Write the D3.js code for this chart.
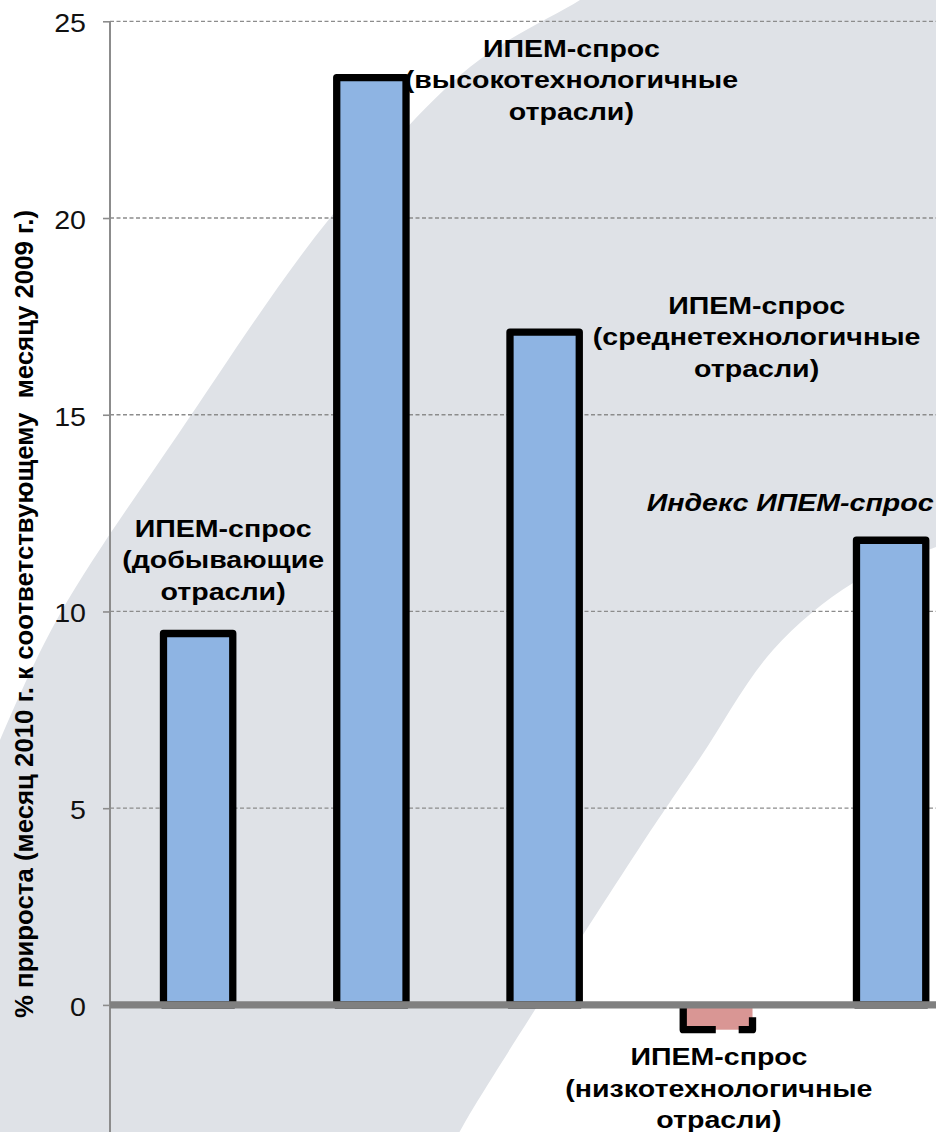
<!DOCTYPE html>
<html>
<head>
<meta charset="utf-8">
<script src="https://cdn.jsdelivr.net/npm/d3@7"></script>
<style>
  html, body { margin: 0; padding: 0; background: #ffffff; }
  svg { display: block; }
</style>
</head>
<body>
<svg id="chart" width="936" height="1132"></svg>
<script>
// ---- data ----
const categories = [
  "ИПЕМ-спрос (добывающие отрасли)",
  "ИПЕМ-спрос (высокотехнологичные отрасли)",
  "ИПЕМ-спрос (среднетехнологичные отрасли)",
  "ИПЕМ-спрос (низкотехнологичные отрасли)",
  "Индекс ИПЕМ-спрос"
];
const values = [9.44, 23.57, 17.10, -0.63, 11.81];
const labelLines = [
  ["ИПЕМ-спрос", "(добывающие", "отрасли)"],
  ["ИПЕМ-спрос", "(высокотехнологичные", "отрасли)"],
  ["ИПЕМ-спрос", "(среднетехнологичные", "отрасли)"],
  ["ИПЕМ-спрос", "(низкотехнологичные", "отрасли)"],
  ["Индекс ИПЕМ-спрос"]
];
const yTicks = [0, 5, 10, 15, 20, 25];
const yTitle = "% прироста (месяц 2010 г. к соответствующему  месяцу 2009 г.)";

// ---- layout / style ----
const W = 936, H = 1132;
const axisX = 110;
const FONT = "'Liberation Sans', Arial, Helvetica, sans-serif";
// label placement: offset from bar centre (dx) and from bar end (dy, baseline of first line)
const labelLayout = [
  { dx: 25,   dy: -96.5, italic: false },
  { dx: 200,  dy: -21,   italic: false },
  { dx: 212,  dy: -18.5, italic: false },
  { dx: 1,    dy: 35.5,  italic: false },
  { dx: -101, dy: -29,   italic: true }
];

const svg = d3.select("#chart");

// ---- background swoosh ----
const bgLine = d3.line().curve(d3.curveCatmullRom.alpha(0.5));
const outer = [[610,-20],[580,0],[470,67],[330,218],[179,433],[60,614],[0,740],[-20,790]];
const inner = [[450,1150],[468,1117],[638,850],[700,758],[773,650],[853,583],[936,547],[960,540]];
const dPath = bgLine(outer) + "L-20,1160L450,1160" + bgLine(inner).replace(/^M/, "L") + "L960,-20Z";
svg.append("rect").attr("width", W).attr("height", H).attr("fill", "#ffffff");
svg.append("path").attr("d", dPath).attr("fill", "#dfe2e7");

// ---- scales ----
const y = d3.scaleLinear().domain([-3.23, 25]).range([H, 21.3]);
const x = d3.scaleBand().domain(categories)
  .range([111.5, 111.5 + 5 * 173.25])
  .paddingInner(0.6).paddingOuter(0.3);

// ---- gridlines ----
svg.append("g").selectAll("line")
  .data(yTicks.filter(t => t !== 0))
  .join("line")
  .attr("x1", axisX).attr("x2", W)
  .attr("y1", d => y(d)).attr("y2", d => y(d))
  .attr("stroke", "#8c8c8c").attr("stroke-width", 1.3)
  .attr("stroke-dasharray", "4,2.5");

// ---- y axis ----
const tickScale = 1.1;
const yAxis = d3.axisLeft(y).tickValues(yTicks).tickSize(7).tickFormat(d3.format("d"));
const gAxis = svg.append("g").attr("transform", `translate(${axisX},0)`).call(yAxis);
gAxis.select(".domain").remove();
gAxis.selectAll(".tick line").attr("stroke", "#8c8c8c").attr("stroke-width", 1.6);
gAxis.selectAll(".tick text")
  .attr("font-family", FONT).attr("font-size", 26).attr("fill", "#111")
  .attr("x", -24 / tickScale).attr("dy", "0.4em")
  .attr("transform", `scale(${tickScale},1)`);
svg.append("line")
  .attr("x1", axisX).attr("x2", axisX)
  .attr("y1", y(25)).attr("y2", H)
  .attr("stroke", "#8c8c8c").attr("stroke-width", 2);

// ---- bars ----
const barStroke = 7.3;
svg.append("g").selectAll("rect")
  .data(values.map((v, i) => ({ v, c: categories[i] })))
  .join("rect")
  .attr("x", d => x(d.c))
  .attr("width", x.bandwidth())
  .attr("y", d => y(Math.max(0, d.v)))
  .attr("height", d => Math.abs(y(d.v) - y(0)))
  .attr("fill", d => d.v >= 0 ? "#8eb4e3" : "#d99694")
  .attr("stroke", "#000")
  .attr("stroke-width", barStroke)
  .attr("stroke-linejoin", "round")
  .attr("stroke-dasharray", d => {
    if (d.v >= 0) return null;
    const w = x.bandwidth(), h = Math.abs(y(d.v) - y(0));
    return [0, w + 0.5 * h, 0.5 * h + 0.2 * w, 0.33 * w, 0.47 * w + h].join(",");
  });

// ---- zero line ----
svg.append("line")
  .attr("x1", axisX).attr("x2", W)
  .attr("y1", y(0)).attr("y2", y(0))
  .attr("stroke", "#808080").attr("stroke-width", 7.3);

// ---- labels ----
const labScale = 1.19;
const lab = svg.append("g").selectAll("g")
  .data(values.map((v, i) => ({ v, c: categories[i], lines: labelLines[i], L: labelLayout[i] })))
  .join("g")
  .attr("transform", d => `translate(${x(d.c) + x.bandwidth() / 2 + d.L.dx},${y(d.v) + d.L.dy}) scale(${labScale},1)`);
lab.append("text")
  .attr("text-anchor", "middle")
  .attr("font-family", FONT).attr("font-size", 24).attr("font-weight", "bold")
  .attr("font-style", d => d.L.italic ? "italic" : "normal")
  .attr("fill", "#000")
  .selectAll("tspan")
  .data(d => d.lines)
  .join("tspan")
  .attr("x", 0)
  .attr("y", (d, i) => i * 31.5)
  .text(d => d);

// ---- y title ----
svg.append("text")
  .attr("transform", `translate(32.5,${(210 + 1018) / 2}) rotate(-90)`)
  .attr("text-anchor", "middle")
  .attr("font-family", FONT).attr("font-size", 25.8).attr("font-weight", "bold")
  .attr("fill", "#000")
  .style("white-space", "pre")
  .text(yTitle);
</script>
</body>
</html>
